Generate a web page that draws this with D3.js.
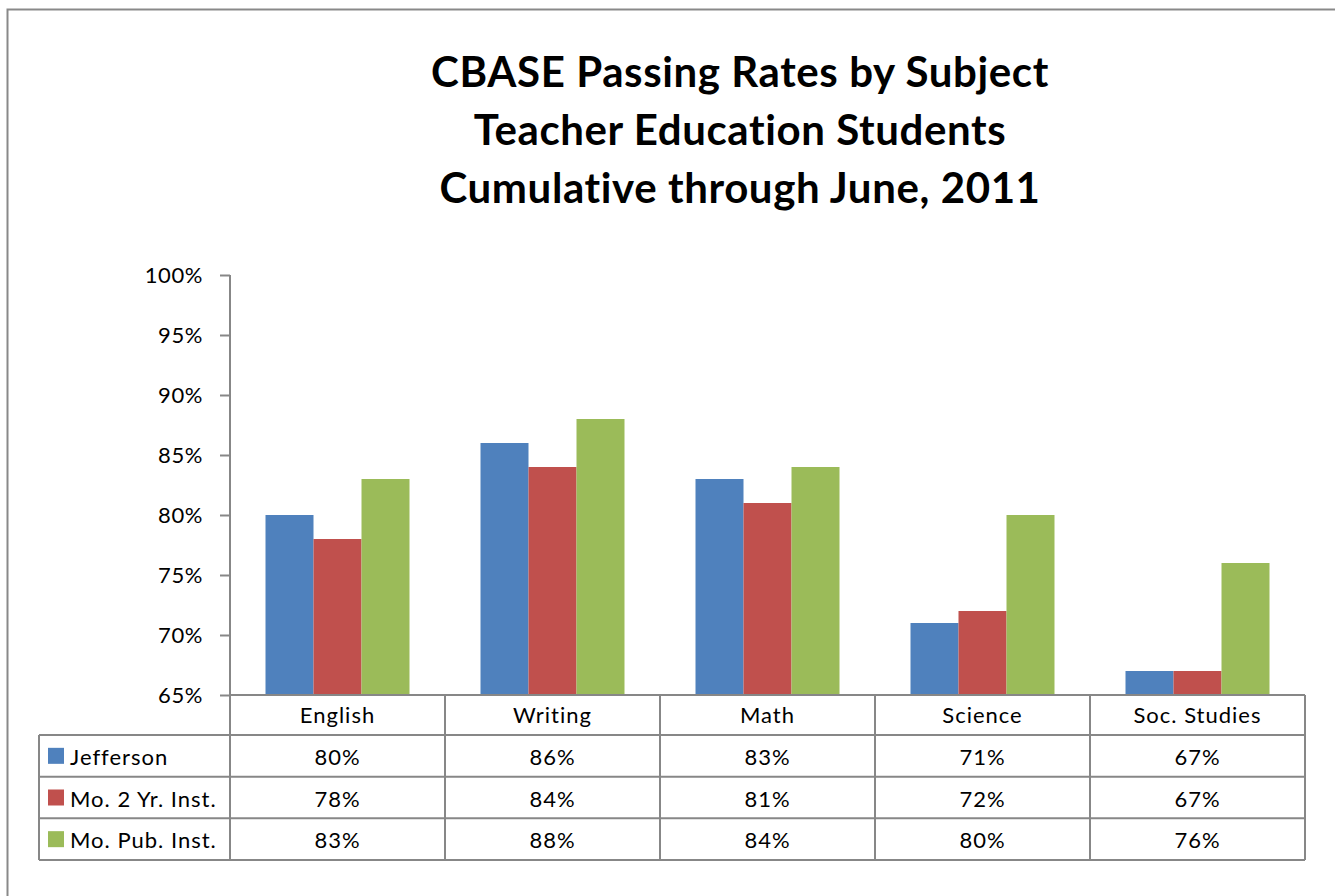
<!DOCTYPE html>
<html>
<head>
<meta charset="utf-8">
<script src="https://cdn.jsdelivr.net/npm/d3@7"></script>
<style>
  html, body { margin: 0; padding: 0; background: #fff; }
  svg { display: block; font-family: Lato, "Open Sans", sans-serif; font-variant-ligatures: none; }
</style>
</head>
<body>
<svg id="chart" width="1335" height="896"></svg>
<script>
const titleLines = ["CBASE Passing Rates by Subject", "Teacher Education Students", "Cumulative through June, 2011"];
const categories = ["English", "Writing", "Math", "Science", "Soc. Studies"];
const seriesNames = ["Jefferson", "Mo. 2 Yr. Inst.", "Mo. Pub. Inst."];
const jefferson = [80, 86, 83, 71, 67];
const twoYear = [78, 84, 81, 72, 67];
const pubInst = [83, 88, 84, 80, 76];
const seriesColors = ["#4F81BD", "#C0504D", "#9BBB59"];
const yTicks = [65, 70, 75, 80, 85, 90, 95, 100];

const seriesValues = [jefferson, twoYear, pubInst];

const svg = d3.select("#chart");
const W = 1335, H = 896;
const axisColor = "#878787";
const fs = 22;

// outer chart border
svg.append("rect")
  .attr("x", 7.5).attr("y", 9.5)
  .attr("width", W + 20).attr("height", H + 20)
  .attr("fill", "none").attr("stroke", "#898989").attr("stroke-width", 2);

// title
const title = svg.append("text")
  .attr("text-anchor", "middle")
  .attr("font-weight", "bold")
  .attr("font-size", 42)
  .attr("letter-spacing", 0.6)
  .attr("fill", "#000");
titleLines.forEach((t, i) => {
  title.append("tspan").attr("x", 740).attr("y", 87 + i * 58).text(t);
});

// plot area
const plotLeft = 230, plotRight = 1305, plotTop = 275, plotBottom = 695;
const x = d3.scaleBand().domain(categories).range([plotLeft, plotRight]).paddingInner(0).paddingOuter(0);
const innerPad = (x.bandwidth() - 144) / 2;
const x1 = d3.scaleBand().domain(seriesNames).range([innerPad, x.bandwidth() - innerPad]).padding(0);
const y = d3.scaleLinear().domain([65, 100]).range([plotBottom, plotTop]);

// bars
const groups = svg.append("g").selectAll("g")
  .data(categories)
  .join("g")
  .attr("transform", d => `translate(${x(d)},0)`);

groups.selectAll("rect")
  .data((d, ci) => seriesNames.map((s, si) => ({ s, si, v: seriesValues[si][ci] })))
  .join("rect")
  .attr("x", d => x1(d.s))
  .attr("y", d => y(d.v))
  .attr("width", x1.bandwidth())
  .attr("height", d => plotBottom - y(d.v))
  .attr("fill", d => seriesColors[d.si]);

// y axis
const yAxis = d3.axisLeft(y)
  .tickValues(yTicks)
  .tickFormat(d => d + "%")
  .tickSize(10)
  .tickPadding(17);
const yg = svg.append("g")
  .attr("transform", `translate(${plotLeft},0)`)
  .call(yAxis);
yg.select(".domain").remove();
yg.selectAll(".tick line").attr("stroke", axisColor).attr("stroke-width", 2);
yg.selectAll(".tick text")
  .attr("font-size", fs)
  .attr("letter-spacing", 0.6)
  .attr("font-family", "Lato, 'Open Sans', sans-serif")
  .attr("fill", "#000");

// y axis line (extends through table)
svg.append("line")
  .attr("x1", plotLeft).attr("x2", plotLeft)
  .attr("y1", plotTop).attr("y2", 860)
  .attr("stroke", axisColor).attr("stroke-width", 2);

// data table
const tableLeft = 39;
const headerTop = plotBottom, headerBottom = 735;
const rowH = (860 - headerBottom) / 3;
const tableG = svg.append("g").attr("font-size", fs).attr("letter-spacing", 1);

// horizontal lines
tableG.append("line")
  .attr("x1", plotLeft).attr("x2", plotRight)
  .attr("y1", headerTop).attr("y2", headerTop)
  .attr("stroke", axisColor).attr("stroke-width", 2);
for (let r = 0; r <= 3; r++) {
  const yy = headerBottom + r * rowH;
  tableG.append("line")
    .attr("x1", tableLeft).attr("x2", plotRight)
    .attr("y1", yy).attr("y2", yy)
    .attr("stroke", axisColor).attr("stroke-width", 2);
}
// vertical lines
categories.forEach(c => {
  tableG.append("line")
    .attr("x1", x(c) + x.bandwidth()).attr("x2", x(c) + x.bandwidth())
    .attr("y1", headerTop).attr("y2", 860)
    .attr("stroke", axisColor).attr("stroke-width", 2);
});
tableG.append("line")
  .attr("x1", tableLeft).attr("x2", tableLeft)
  .attr("y1", headerBottom).attr("y2", 860)
  .attr("stroke", axisColor).attr("stroke-width", 2);

// header labels
tableG.selectAll("text.cat")
  .data(categories)
  .join("text")
  .attr("class", "cat")
  .attr("x", d => x(d) + x.bandwidth() / 2)
  .attr("y", (headerTop + headerBottom) / 2 + 8)
  .attr("text-anchor", "middle")
  .text(d => d);

// rows
seriesNames.forEach((s, si) => {
  const cy = headerBottom + si * rowH + rowH / 2;
  tableG.append("rect")
    .attr("x", 48).attr("y", cy - 8)
    .attr("width", 16).attr("height", 16)
    .attr("fill", seriesColors[si]);
  tableG.append("text")
    .attr("x", 70).attr("y", cy + 9)
    .text(s);
  categories.forEach((c, ci) => {
    tableG.append("text")
      .attr("x", x(c) + x.bandwidth() / 2)
      .attr("y", cy + 9)
      .attr("text-anchor", "middle")
      .text(seriesValues[si][ci] + "%");
  });
});
</script>
</body>
</html>
